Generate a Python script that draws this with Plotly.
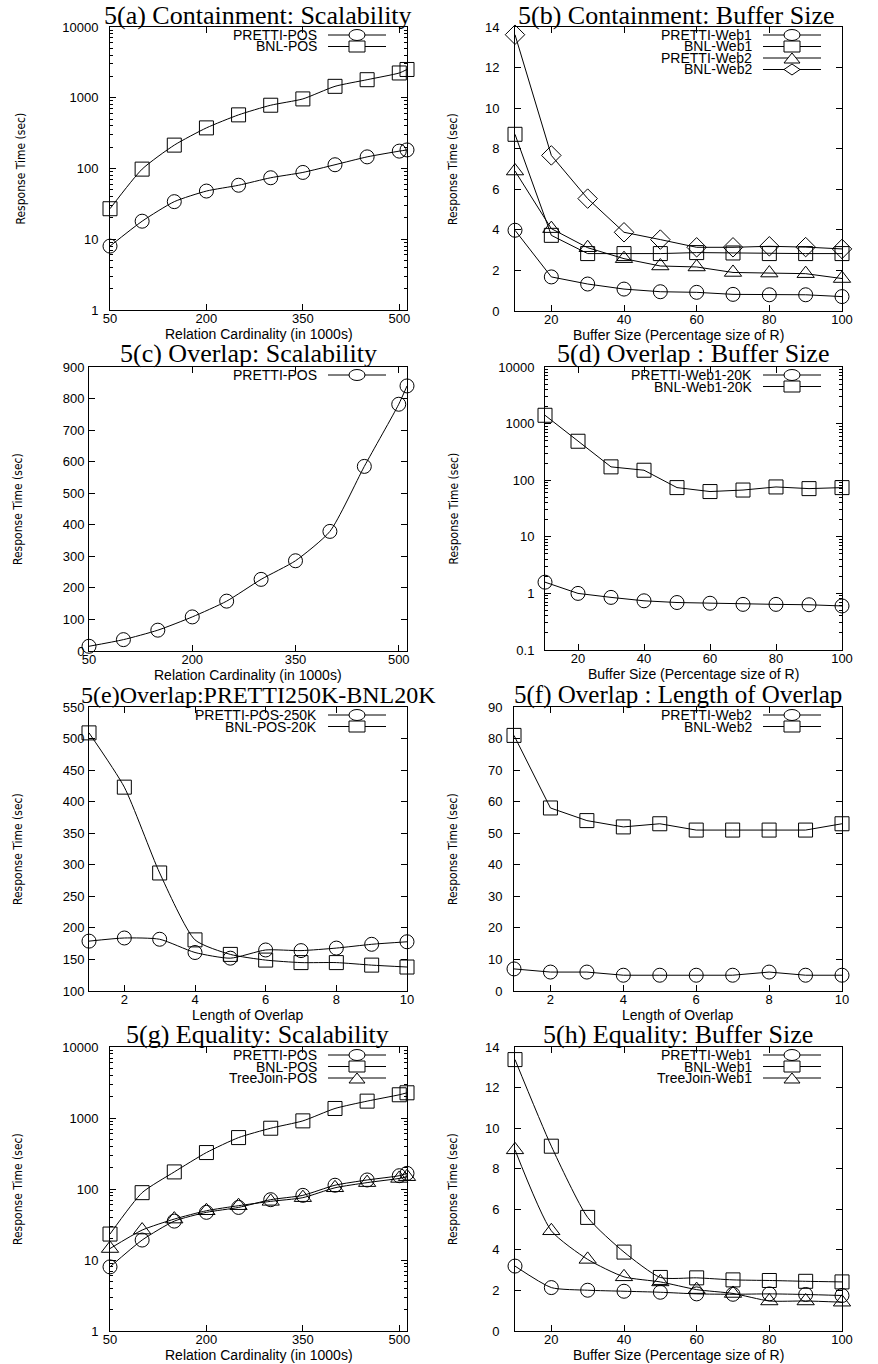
import plotly.graph_objects as go

W, H = 878, 1364

# ---------------- data ----------------
card_x = [50, 100, 150, 200, 250, 300, 350, 400, 450, 500, 512]
buf_x = [10, 20, 30, 40, 50, 60, 70, 80, 90, 100]
ovl_x = [1, 2, 3, 4, 5, 6, 7, 8, 9, 10]

a_pretti_pos = [8.0, 18, 34, 48, 58, 74, 88, 113, 146, 176, 183]
a_bnl_pos = [27, 98, 214, 375, 573, 784, 963, 1450, 1800, 2240, 2510]

b_pretti_web1 = [3.98, 1.68, 1.33, 1.08, 0.95, 0.92, 0.82, 0.80, 0.80, 0.71]
b_bnl_web1 = [8.71, 3.73, 2.83, 2.83, 2.83, 2.88, 2.86, 2.83, 2.83, 2.83]
b_pretti_web2 = [6.9, 4.06, 3.12, 2.58, 2.22, 2.17, 1.90, 1.87, 1.84, 1.60]
b_bnl_web2 = [13.62, 7.67, 5.54, 3.88, 3.52, 3.14, 3.14, 3.19, 3.15, 3.06]

c_pretti_pos = [15, 36, 66, 108, 158, 227, 286, 379, 585, 782, 840]

d_pretti_web1 = [1.58, 1.0, 0.85, 0.74, 0.69, 0.67, 0.64, 0.64, 0.63, 0.60]
d_bnl_web1 = [1403, 488, 172, 150, 74, 63, 67, 76, 71, 74]

e_pretti_pos = [179, 184, 182, 161, 152, 165, 164, 168, 174, 178]
e_bnl_pos = [509, 423, 287, 181, 158, 149, 145, 145, 141, 138]

f_pretti_web2 = [7, 6, 6, 5, 5, 5, 5, 6, 5, 5]
f_bnl_web2 = [81, 58, 54, 52, 53, 51, 51, 51, 51, 53]

g_pretti_pos = [8.0, 19.1, 35.3, 46.9, 55, 70.7, 81.4, 113, 134, 154, 166]
g_bnl_pos = [23.2, 88.8, 174, 326, 530, 718, 911, 1362, 1728, 2124, 2265]
g_tree_pos = [14.5, 26.4, 37.7, 49.4, 58.2, 67, 75.5, 104, 123, 141, 149]

h_pretti_web1 = [3.2, 2.14, 2.01, 1.96, 1.91, 1.83, 1.81, 1.83, 1.80, 1.75]
h_bnl_web1 = [13.38, 9.11, 5.6, 3.89, 2.64, 2.62, 2.52, 2.49, 2.45, 2.42]
h_tree_web1 = [8.93, 4.94, 3.53, 2.67, 2.42, 2.04, 1.85, 1.48, 1.48, 1.42]

card_ticks = [50, 200, 350, 500]
buf_ticks = [20, 40, 60, 80, 100]
ovl_ticks = [2, 4, 6, 8, 10]

XLAB_CARD = "Relation Cardinality (in 1000s)"
XLAB_BUF = "Buffer Size (Percentage size of R)"
XLAB_OVL = "Length of Overlap"
YLAB = "Response Time (sec)"

panels = [
    dict(title="5(a) Containment: Scalability", tsz=26, box=(110, 407, 27, 310), tcx=258, tcy=13,
         xlab=XLAB_CARD, xr=[50, 512], xt=card_ticks, ylog=True, yr=[0, 4],
         yt=[1, 10, 100, 1000, 10000], ylx=20, smooth=True, so=8,
         series=[("PRETTI-POS", card_x, a_pretti_pos, "circle"),
                 ("BNL-POS", card_x, a_bnl_pos, "square")]),
    dict(title="5(b) Containment: Buffer Size", tsz=26, box=(515, 842, 27, 311), tcx=676, tcy=13,
         xlab=XLAB_BUF, xr=[10, 100], xt=buf_ticks, ylog=False, yr=[0, 14], yt=list(range(0, 15, 2)),
         ylx=453, smooth=False, so=12,
         series=[("PRETTI-Web1", buf_x, b_pretti_web1, "circle"),
                 ("BNL-Web1", buf_x, b_bnl_web1, "square"),
                 ("PRETTI-Web2", buf_x, b_pretti_web2, "triangle"),
                 ("BNL-Web2", buf_x, b_bnl_web2, "diamond")]),
    dict(title="5(c) Overlap: Scalability", tsz=26, box=(89, 407, 367, 651), tcx=248, tcy=353,
         xlab=XLAB_CARD, xr=[50, 512], xt=card_ticks, ylog=False, yr=[0, 900], yt=list(range(0, 901, 100)),
         ylx=18, smooth=True, so=1,
         series=[("PRETTI-POS", card_x, c_pretti_pos, "circle")]),
    dict(title="5(d) Overlap : Buffer Size", tsz=26, box=(545, 842, 367, 650), tcx=693, tcy=353,
         xlab=XLAB_BUF, xr=[10, 100], xt=buf_ticks, ylog=True, yr=[-1, 4],
         yt=[0.1, 1, 10, 100, 1000, 10000], ylx=453, smooth=False, so=7,
         series=[("PRETTI-Web1-20K", buf_x, d_pretti_web1, "circle"),
                 ("BNL-Web1-20K", buf_x, d_bnl_web1, "square")]),
    dict(title="5(e)Overlap:PRETTI250K-BNL20K", tsz=24, box=(89, 407, 707, 991), tcx=258, tcy=695,
         xlab=XLAB_OVL, xr=[1, 10], xt=ovl_ticks, ylog=False, yr=[100, 550], yt=list(range(100, 551, 50)),
         ylx=18, smooth=True, so=1,
         series=[("PRETTI-POS-250K", ovl_x, e_pretti_pos, "circle"),
                 ("BNL-POS-20K", ovl_x, e_bnl_pos, "square")]),
    dict(title="5(f) Overlap : Length of Overlap", tsz=25, box=(514, 842, 707, 991), tcx=678, tcy=695,
         xlab=XLAB_OVL, xr=[1, 10], xt=ovl_ticks, ylog=False, yr=[0, 90], yt=list(range(0, 91, 10)),
         ylx=453, smooth=False, so=8,
         series=[("PRETTI-Web2", ovl_x, f_pretti_web2, "circle"),
                 ("BNL-Web2", ovl_x, f_bnl_web2, "square")]),
    dict(title="5(g) Equality: Scalability", tsz=26, box=(110, 407, 1047, 1331), tcx=257, tcy=1034,
         xlab=XLAB_CARD, xr=[50, 512], xt=card_ticks, ylog=True, yr=[0, 4],
         yt=[1, 10, 100, 1000, 10000], ylx=18, smooth=True, so=8,
         series=[("PRETTI-POS", card_x, g_pretti_pos, "circle"),
                 ("BNL-POS", card_x, g_bnl_pos, "square"),
                 ("TreeJoin-POS", card_x, g_tree_pos, "triangle")]),
    dict(title="5(h) Equality: Buffer Size", tsz=26, box=(515, 842, 1047, 1331), tcx=678, tcy=1034,
         xlab=XLAB_BUF, xr=[10, 100], xt=buf_ticks, ylog=False, yr=[0, 14], yt=list(range(0, 15, 2)),
         ylx=453, smooth=True, so=12,
         series=[("PRETTI-Web1", buf_x, h_pretti_web1, "circle"),
                 ("BNL-Web1", buf_x, h_bnl_web1, "square"),
                 ("TreeJoin-Web1", buf_x, h_tree_web1, "triangle")]),
]

SYM = {"circle": ("circle-open", 14), "square": ("square-open", 14),
       "triangle": ("triangle-up-open", 15), "diamond": ("diamond-open", 15)}

SANS = "Liberation Sans, Arial, sans-serif"
NARROW = "Liberation Sans Narrow, DejaVu Sans Condensed, Liberation Sans, sans-serif"
SERIF = "Liberation Serif, Times New Roman, serif"

fig = go.Figure()
layout = dict(width=W, height=H, margin=dict(l=0, r=0, t=0, b=0, pad=0), autosize=False,
              paper_bgcolor="white", plot_bgcolor="white", showlegend=False)
annotations = []
shapes = []


def px(x):
    return x / W


def py(y):
    return 1 - y / H


for i, p in enumerate(panels, start=1):
    xs = "" if i == 1 else str(i)
    x0, x1, y0, y1 = p["box"]
    common = dict(showline=True, linecolor="black", linewidth=1, mirror="ticks",
                  ticks="inside", ticklen=6, tickcolor="black", tickwidth=1,
                  showgrid=False, zeroline=False, automargin=False,
                  tickfont=dict(family=SANS, size=13, color="black"))
    xa = dict(common, domain=[px(x0), px(x1)], range=p["xr"], tickvals=p["xt"],
              anchor="y" + xs, ticklabelstandoff=-4)
    if p["ylog"]:
        ya = dict(common, domain=[py(y1), py(y0)], type="log", range=p["yr"],
                  tickvals=p["yt"], ticktext=[("%g" % v) for v in p["yt"]],
                  minor=dict(ticks="inside", ticklen=3, tickcolor="black", dtick="D1", showgrid=False))
    else:
        ya = dict(common, domain=[py(y1), py(y0)], range=p["yr"], tickvals=p["yt"])
    ya["anchor"] = "x" + xs
    ya["ticklabelstandoff"] = p["so"]
    layout["xaxis" + xs] = xa
    layout["yaxis" + xs] = ya

    for name, xv, yv, sym in p["series"]:
        s, sz = SYM[sym]
        fig.add_trace(go.Scatter(
            x=xv, y=yv, name=name, mode="lines+markers",
            xaxis="x" + xs, yaxis="y" + xs, cliponaxis=False,
            line=dict(color="black", width=1, shape="spline" if p["smooth"] else "linear",
                      smoothing=0.6),
            marker=dict(symbol=s, size=sz, color="black", line=dict(color="black", width=1)),
        ))

    # title
    if p["tcy"] < 20:
        annotations.append(dict(text=p["title"], x=px(p["tcx"]), y=1.0,
                                xref="paper", yref="paper", xanchor="center", yanchor="top",
                                showarrow=False, borderpad=0,
                                font=dict(family=SERIF, size=p["tsz"], color="black")))
    else:
        annotations.append(dict(text=p["title"], x=px(p["tcx"]), y=py(p["tcy"]),
                                xref="paper", yref="paper", xanchor="center", yanchor="middle",
                                showarrow=False, borderpad=0,
                                font=dict(family=SERIF, size=p["tsz"], color="black")))
    # x label
    annotations.append(dict(text=p["xlab"], x=px((x0 + x1) / 2), y=py(y1 + 24),
                            xref="paper", yref="paper", xanchor="center", yanchor="middle",
                            showarrow=False, borderpad=0,
                            font=dict(family=SANS, size=14, color="black")))
    # y label
    annotations.append(dict(text=YLAB, x=px(p["ylx"]), y=py((y0 + y1) / 2),
                            xref="paper", yref="paper", xanchor="center", yanchor="middle",
                            textangle=-90, showarrow=False,
                            font=dict(family=NARROW, size=12, color="black")))

    # legend (text, then line sample with marker, as in the original)
    for k, (name, xv, yv, sym) in enumerate(p["series"]):
        ry = y0 + 8 + k * 11.5
        annotations.append(dict(text=name, x=px(x1 - 89), y=py(ry), xref="paper", yref="paper",
                                xanchor="right", yanchor="middle", showarrow=False, borderpad=0,
                                font=dict(family=SANS, size=14, color="black")))
        shapes.append(dict(type="line", xref="paper", yref="paper",
                           x0=px(x1 - 79), x1=px(x1 - 21), y0=py(ry), y1=py(ry),
                           line=dict(color="black", width=1)))
        cx = x1 - 50
        if sym == "circle":
            shapes.append(dict(type="circle", xref="paper", yref="paper",
                               x0=px(cx - 8), x1=px(cx + 8), y0=py(ry - 5.5), y1=py(ry + 5.5),
                               line=dict(color="black", width=1), fillcolor="white"))
        elif sym == "square":
            shapes.append(dict(type="rect", xref="paper", yref="paper",
                               x0=px(cx - 8), x1=px(cx + 8), y0=py(ry - 5.5), y1=py(ry + 5.5),
                               line=dict(color="black", width=1), fillcolor="white"))
        elif sym == "triangle":
            path = "M %f,%f L %f,%f L %f,%f Z" % (px(cx - 8), py(ry + 5), px(cx + 8), py(ry + 5),
                                                px(cx), py(ry - 5))
            shapes.append(dict(type="path", xref="paper", yref="paper", path=path,
                               line=dict(color="black", width=1), fillcolor="white"))
        else:
            path = "M %f,%f L %f,%f L %f,%f L %f,%f Z" % (px(cx - 8), py(ry), px(cx), py(ry - 5.5),
                                                        px(cx + 8), py(ry), px(cx), py(ry + 5.5))
            shapes.append(dict(type="path", xref="paper", yref="paper", path=path,
                               line=dict(color="black", width=1), fillcolor="white"))

layout["annotations"] = annotations
layout["shapes"] = shapes
fig.update_layout(**layout)
fig.write_html("out.html", config={"displayModeBar": False, "staticPlot": True},
               post_script="document.body.style.margin='0';document.body.style.padding='0';")
